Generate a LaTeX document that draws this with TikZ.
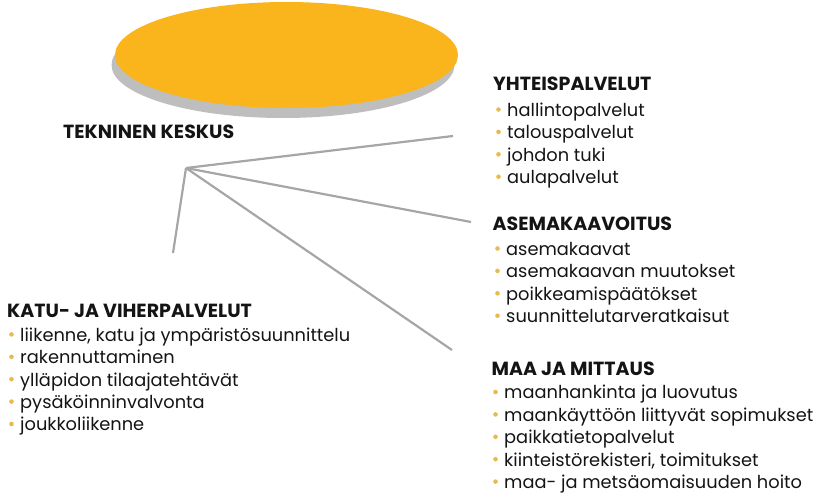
\documentclass[tikz,border=0pt]{standalone}
\usepackage{fontspec}
\setmainfont{Poppins}
\usepackage{tikz}
\usetikzlibrary{positioning}

\definecolor{kulta}{RGB}{250,181,28}
\definecolor{varjo}{RGB}{190,190,190}
\definecolor{viiva}{RGB}{166,166,166}
\definecolor{pallokulta}{RGB}{233,186,78}
\definecolor{teksti}{RGB}{20,20,20}

\tikzset{
  otsikko/.style={font=\fontsize{19}{22}\selectfont\bfseries, text=teksti, anchor=base west, inner sep=0pt},
  kohta/.style={font=\fontsize{17.8}{21}\selectfont, text=teksti, anchor=base west, inner sep=0pt},
  haara/.style={draw=viiva, line width=2.2pt},
  pallo/.style={fill=pallokulta},
}

\begin{document}
\begin{tikzpicture}[x=1pt, y=-1pt]
    \useasboundingbox (0,0) rectangle (826,498);
    %%levy
    \fill[varjo] (283,65) ellipse (171.5 and 53);
    \fill[kulta] (286.5,55) ellipse (171.5 and 53);
    \node[otsikko] (keskus) at (63,138.3) {TEKNINEN KESKUS};
    %%haarat
    \coordinate (napa) at (186,168);
    \coordinate (yht-pää) at (453,136);
    \coordinate (asema-pää) at (471,222);
    \coordinate (maa-pää) at (452,350);
    \coordinate (katu-pää) at (173,253);
    \draw[haara] (napa) -- (yht-pää);
    \draw[haara] (napa) -- (asema-pää);
    \draw[haara] (napa) -- (maa-pää);
    \draw[haara] (napa) -- (katu-pää);
    %%yhteispalvelut
    \node[otsikko] (yht) at (493,90.7) {YHTEISPALVELUT};
    \foreach \t [count=\i] in {hallintopalvelut, talouspalvelut, johdon tuki, aulapalvelut}{
        \node[kohta] (yht-\i) at (507,{116.3+22.4*(\i-1)}) {\t};
        \fill[pallo] ([xshift=-8.5pt, yshift=6.8pt]yht-\i.base west) circle (2.3);
    }
    %%asemakaavoitus
    \node[otsikko] (asema) at (492.5,230.7) {ASEMAKAAVOITUS};
    \foreach \t [count=\i] in {asemakaavat, asemakaavan muutokset, poikkeamispäätökset, suunnittelutarveratkaisut}{
        \node[kohta] (asema-\i) at (506,{255.3+22.4*(\i-1)}) {\t};
        \fill[pallo] ([xshift=-8.5pt, yshift=6.8pt]asema-\i.base west) circle (2.3);
    }
    %%maa ja mittaus
    \node[otsikko] (maa) at (491.5,375) {MAA JA MITTAUS};
    \foreach \t [count=\i] in {maanhankinta ja luovutus, maankäyttöön liittyvät sopimukset, paikkatietopalvelut, {kiinteistörekisteri, toimitukset}, maa- ja metsäomaisuuden hoito}{
        \node[kohta] (maa-\i) at (504,{398.8+22.4*(\i-1)}) {\t};
        \fill[pallo] ([xshift=-8.5pt, yshift=6.8pt]maa-\i.base west) circle (2.3);
    }
    %%katu- ja viherpalvelut
    \node[otsikko] (katu) at (7,317.3) {KATU- JA VIHERPALVELUT};
    \foreach \t [count=\i] in {{liikenne, katu ja ympäristösuunnittelu}, rakennuttaminen, ylläpidon tilaajatehtävät, pysäköinninvalvonta, joukkoliikenne}{
        \node[kohta] (katu-\i) at (20,{341.2+22.4*(\i-1)}) {\t};
        \fill[pallo] ([xshift=-8.5pt, yshift=6.8pt]katu-\i.base west) circle (2.3);
    }
\end{tikzpicture}
\end{document}
